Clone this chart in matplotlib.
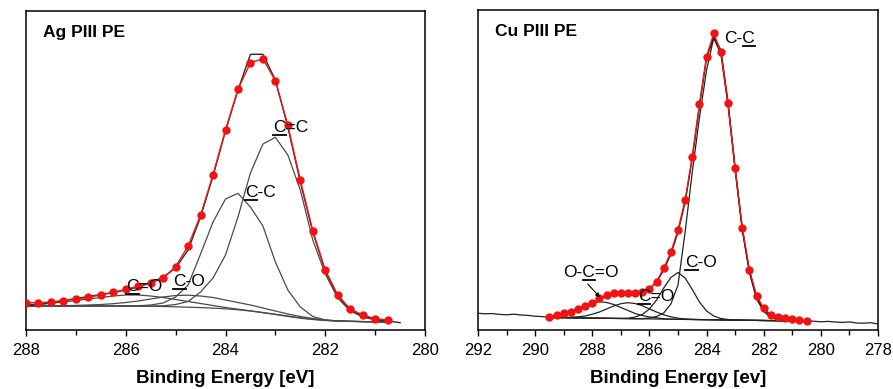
import numpy as np
import matplotlib
matplotlib.use("Agg")
import matplotlib.pyplot as plt
from matplotlib.lines import Line2D
from matplotlib.transforms import IdentityTransform

plt.rcParams['font.family'] = ['Liberation Sans', 'DejaVu Sans']

# ---------------- Ag PIII PE (left panel) ----------------
ag_energy = [288.0, 287.75, 287.5, 287.25, 287.0, 286.75, 286.5, 286.25, 286.0, 285.75,
             285.5, 285.25, 285.0, 284.75, 284.5, 284.25, 284.0, 283.75, 283.5, 283.25,
             283.0, 282.75, 282.5, 282.25, 282.0, 281.75, 281.5, 281.25, 281.0, 280.75]
ag_data = [27.3, 27.3, 28.0, 29.5, 30.7, 32.7, 35.0, 37.7, 40.7, 43.7,
           47.3, 51.7, 63.3, 84.0, 114.7, 155.3, 200.0, 240.7, 267.3, 271.3,
           249.3, 204.7, 150.0, 99.3, 60.0, 35.0, 21.0, 15.0, 11.3, 10.0]
ag_env_energy = ag_energy + [280.5]
ag_envelope = [25.0, 25.5, 27.0, 29.5, 31.5, 33.5, 35.5, 37.5, 40.0, 43.0,
               47.0, 53.0, 62.0, 80.0, 113.0, 154.0, 199.0, 240.0, 275.7, 275.7,
               250.0, 203.0, 148.0, 98.0, 59.0, 34.0, 20.0, 14.0, 11.0, 9.0, 7.3]
ag_background = [24.0, 24.0, 24.0, 24.0, 24.0, 24.0, 24.0, 24.0, 23.9, 23.8,
                 23.7, 23.5, 23.2, 22.8, 22.4, 21.9, 21.2, 20.2, 19.0, 17.3,
                 15.5, 13.6, 11.8, 10.5, 9.5, 9.0, 8.6, 8.4, 8.2, 8.0]
ag_c_eq_c = [24.0, 24.0, 24.0, 24.0, 24.0, 24.0, 24.0, 24.0, 24.0, 24.0,
             24.0, 24.2, 25.5, 28.5, 38.0, 52.0, 75.0, 113.0, 157.0, 186.0,
             192.7, 175.0, 140.0, 90.0, 56.0, 32.0, 19.0, 13.0, 10.0, 9.0]
ag_c_c = [24.0, 24.0, 24.0, 24.0, 24.0, 24.0, 24.0, 24.0, 24.0, 24.2,
          25.0, 27.0, 33.0, 45.0, 76.0, 108.0, 131.0, 136.7, 123.0, 104.0,
          68.0, 40.0, 23.0, 13.5, 10.0, 9.0, 8.6, 8.4, 8.2, 8.0]
ag_c_o = [24.0, 24.1, 24.2, 24.4, 24.6, 25.0, 25.5, 26.3, 27.5, 29.0,
          31.0, 33.0, 34.5, 34.8, 34.0, 32.5, 30.0, 27.5, 25.0, 22.0,
          19.0, 16.0, 13.5, 11.5, 10.0, 9.2, 8.7, 8.4, 8.2, 8.0]
ag_c_eq_o = [25.0, 25.8, 26.8, 28.0, 29.5, 31.0, 32.5, 34.0, 35.0, 35.0,
             34.0, 32.5, 30.5, 28.5, 26.5, 24.5, 22.5, 20.8, 19.2, 17.5,
             15.8, 14.0, 12.2, 10.8, 9.7, 9.1, 8.7, 8.4, 8.2, 8.0]

# ---------------- Cu PIII PE (right panel) ----------------
cu_energy = [289.5, 289.25, 289.0, 288.75, 288.5, 288.25, 288.0, 287.75, 287.5, 287.25,
             287.0, 286.75, 286.5, 286.25, 286.0, 285.75, 285.5, 285.25, 285.0, 284.75,
             284.5, 284.25, 284.0, 283.75, 283.5, 283.25, 283.0, 282.75, 282.5, 282.25,
             282.0, 281.75, 281.5, 281.25, 281.0, 280.75, 280.5]
cu_data = [13.3, 15.0, 16.7, 18.3, 20.7, 24.0, 27.3, 31.7, 35.3, 36.7,
           37.0, 36.7, 36.7, 38.0, 41.0, 48.3, 61.7, 77.7, 100.0, 130.0,
           173.3, 225.7, 273.3, 296.7, 278.3, 226.7, 161.7, 102.3, 60.0, 34.3,
           21.7, 15.0, 12.7, 11.7, 10.7, 10.0, 9.3]
cu_envelope = [12.8, 14.5, 16.5, 18.5, 21.0, 24.0, 27.5, 31.0, 34.0, 36.0,
               36.5, 36.5, 36.5, 37.5, 41.0, 48.0, 60.0, 76.0, 98.0, 128.0,
               172.0, 224.0, 272.0, 293.0, 280.0, 228.0, 162.0, 101.0, 59.0, 33.0,
               20.5, 14.0, 11.5, 10.5, 10.0, 9.3, 8.8]
cu_background = [12.5, 12.4, 12.3, 12.2, 12.1, 12.0, 11.9, 11.8, 11.7, 11.6,
                 11.5, 11.4, 11.3, 11.2, 11.1, 11.0, 10.9, 10.8, 10.7, 10.6,
                 10.5, 10.4, 10.3, 10.2, 10.1, 10.0, 9.9, 9.8, 9.7, 9.6,
                 9.5, 9.4, 9.3, 9.2, 9.1, 9.0, 8.9]
cu_o_c_eq_o = [12.7, 14.0, 16.0, 18.5, 21.5, 24.5, 27.0, 28.3, 27.5, 25.5,
               22.5, 19.5, 16.5, 14.5, 13.0, 12.2, 11.2, 10.9, 10.7, 10.6,
               10.5, 10.4, 10.3, 10.2, 10.1, 10.0, 9.9, 9.8, 9.7, 9.6,
               9.5, 9.4, 9.3, 9.2, 9.1, 9.0, 8.9]
cu_c_eq_o = [12.5, 12.5, 12.6, 12.8, 13.2, 14.0, 15.8, 18.0, 21.0, 24.0,
             26.3, 27.3, 26.5, 24.3, 21.0, 18.0, 15.2, 13.2, 11.8, 11.0,
             10.6, 10.4, 10.3, 10.2, 10.1, 10.0, 9.9, 9.8, 9.7, 9.6,
             9.5, 9.4, 9.3, 9.2, 9.1, 9.0, 8.9]
cu_c_o = [12.5, 12.4, 12.3, 12.2, 12.1, 12.0, 11.9, 11.8, 11.7, 11.6,
          11.6, 11.8, 13.0, 15.5, 21.0, 30.0, 42.0, 52.5, 57.5, 52.0,
          40.5, 28.0, 19.0, 14.0, 11.5, 10.5, 10.0, 9.8, 9.7, 9.6,
          9.5, 9.4, 9.3, 9.2, 9.1, 9.0, 8.9]
cu_c_c = [12.5, 12.4, 12.3, 12.2, 12.1, 12.0, 11.9, 11.8, 11.7, 11.6,
          11.5, 11.4, 11.3, 11.3, 12.0, 13.5, 17.0, 26.0, 45.0, 98.0,
          158.0, 212.0, 260.0, 292.0, 276.0, 225.0, 160.0, 100.0, 57.0, 31.0,
          18.5, 12.5, 10.2, 9.5, 9.2, 9.0, 8.9]
cu_raw_left_energy = [292.0, 291.75, 291.5, 291.25, 291.0, 290.75, 290.5, 290.25, 290.0, 289.75, 289.5]
cu_raw_left = [16.7, 16.2, 16.4, 15.6, 15.2, 15.8, 15.0, 14.6, 13.8, 13.4, 12.8]
cu_raw_right_energy = [280.5, 280.25, 280.0, 279.75, 279.5, 279.25, 279.0, 278.75, 278.5, 278.25, 278.0]
cu_raw_right = [9.0, 8.8, 8.2, 8.6, 8.0, 7.6, 8.1, 7.0, 6.8, 7.3, 6.0]

# ---------------- figure ----------------
fig = plt.figure(figsize=(8.93, 3.89), dpi=100)
axL = fig.add_axes([26/893, 59/389, 399/893, 319/389])
axR = fig.add_axes([478/893, 59/389, 400/893, 320/389])

comp_gray = '#4a4a4a'
red = '#f21212'

# Left panel
axL.plot(ag_energy, ag_background, color=comp_gray, lw=0.9, zorder=2)
for comp in (ag_c_eq_o, ag_c_o, ag_c_c, ag_c_eq_c):
    axL.plot(ag_energy, comp, color=comp_gray, lw=0.9, zorder=2)
axL.plot(ag_env_energy, ag_envelope, color='#2a2a2a', lw=1.0, zorder=3)
axL.plot(ag_energy, ag_data, color=red, lw=1.0, marker='o', ms=6.0,
         markeredgewidth=0, markerfacecolor=red, zorder=4)
axL.set_xlim(288, 280)
axL.set_ylim(0, 319)

# Right panel
axR.plot(cu_raw_left_energy, cu_raw_left, color='#222222', lw=0.9, zorder=2)
axR.plot(cu_raw_right_energy, cu_raw_right, color='#222222', lw=0.9, zorder=2)
axR.plot(cu_energy, cu_background, color='#222222', lw=0.9, zorder=2)
for comp in (cu_o_c_eq_o, cu_c_eq_o, cu_c_o, cu_c_c):
    axR.plot(cu_energy, comp, color='#222222', lw=0.9, zorder=2)
axR.plot(cu_energy, cu_envelope, color='#111111', lw=1.0, zorder=3)
axR.plot(cu_energy, cu_data, color=red, lw=1.0, marker='o', ms=6.0,
         markeredgewidth=0, markerfacecolor=red, zorder=4)
axR.set_xlim(292, 278)
axR.set_ylim(0, 320)

for ax, major in ((axL, np.arange(288, 279, -2)), (axR, np.arange(292, 277, -2))):
    ax.set_xticks(major)
    ax.set_xticks(np.arange(major.min() + 1, major.max(), 2), minor=True)
    ax.set_yticks([])
    ax.tick_params(axis='x', which='major', direction='out', length=4.5, width=1.0,
                   labelsize=12, pad=5, colors='black')
    ax.tick_params(axis='x', which='minor', direction='out', length=3.5, width=1.0)
    for s in ax.spines.values():
        s.set_linewidth(1.1)
        s.set_color('black')

axL.text(0.042, 0.919, 'Ag PIII PE', transform=axL.transAxes, fontsize=12.5,
         fontweight='bold', ha='left', va='baseline')
axR.text(0.043, 0.919, 'Cu PIII PE', transform=axR.transAxes, fontsize=12.5,
         fontweight='bold', ha='left', va='baseline')

fig.text((26 + 399/2)/893, 6.3/389, 'Binding Energy [eV]', fontsize=13.5,
         fontweight='bold', ha='center', va='baseline')
fig.text((478 + 400/2)/893, 6.3/389, 'Binding Energy [ev]', fontsize=13.5,
         fontweight='bold', ha='center', va='baseline')

# peak labels: (axis, text, left energy, baseline intensity, index of underlined char)
labels = [
    (axL, 'C=C', 283.04, 198.3, 0),
    (axL, 'C-C', 283.61, 133.3, 0),
    (axL, 'C-O', 285.05, 44.0, 0),
    (axL, 'C=O', 285.99, 39.3, 0),
    (axR, 'C-C', 283.38, 286.7, 2),
    (axR, 'C-O', 284.74, 63.3, 0),
    (axR, 'C=O', 286.41, 29.0, 0),
    (axR, 'O-C=O', 289.01, 52.7, 2),
]
label_size = 12.5
texts = []
for ax, s, e, i, u in labels:
    t = ax.text(e, i, s, fontsize=label_size, ha='left', va='baseline', zorder=6)
    texts.append((t, s, u))

axR.annotate('', xy=(287.73, 32.7), xytext=(288.16, 46.0),
             arrowprops=dict(arrowstyle='-|>', lw=0.8, color='black',
                             mutation_scale=6, shrinkA=0, shrinkB=0), zorder=6)

fig.canvas.draw()
renderer = fig.canvas.get_renderer()
for t, s, u in texts:
    prop = t.get_fontproperties()
    w0 = renderer.get_text_width_height_descent(s[:u], prop, ismath=False)[0] if u > 0 else 0.0
    w1 = renderer.get_text_width_height_descent(s[:u + 1], prop, ismath=False)[0]
    anchor = t.get_transform().transform(t.get_position())
    y_line = anchor[1] - 2.8
    fig.add_artist(Line2D([anchor[0] + w0, anchor[0] + w1], [y_line, y_line],
                          transform=IdentityTransform(), color='black', lw=1.3))

fig.savefig('out.png', dpi=100)
